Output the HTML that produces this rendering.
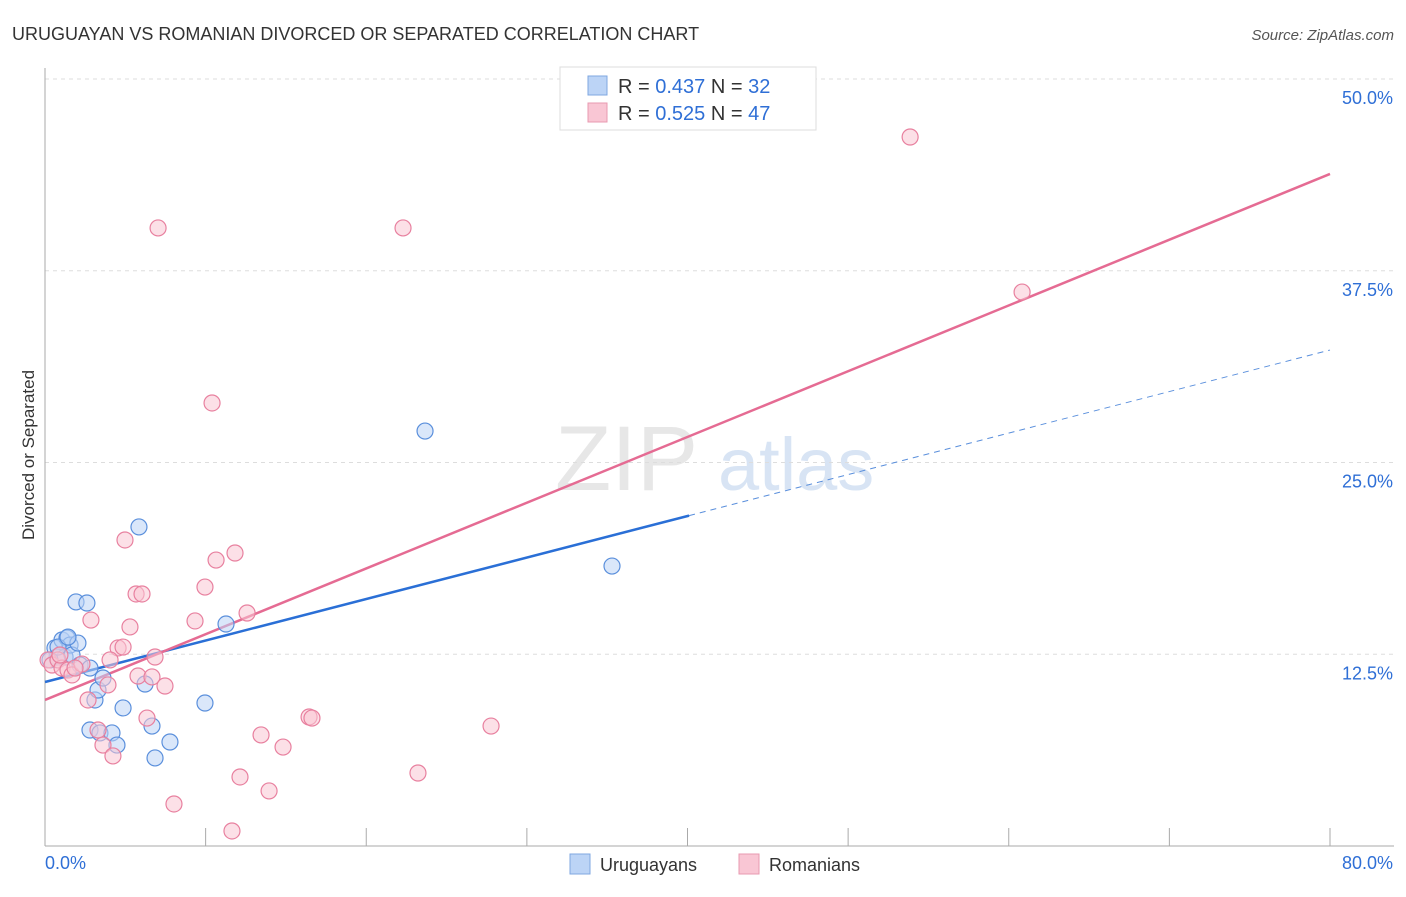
<!DOCTYPE html>
<html><head><meta charset="utf-8"><style>
body{margin:0;background:#fff;font-family:"Liberation Sans",sans-serif;}
svg text{font-family:"Liberation Sans",sans-serif;}
</style></head><body>
<svg id="chart" width="1406" height="892">
<text x="12" y="40" font-size="18" fill="#333">URUGUAYAN VS ROMANIAN DIVORCED OR SEPARATED CORRELATION CHART</text>
<text x="1394" y="40" font-size="15" fill="#555" text-anchor="end" font-style="italic">Source: ZipAtlas.com</text>
<text x="34" y="455" font-size="17" fill="#333" text-anchor="middle" transform="rotate(-90 34 455)">Divorced or Separated</text>
<g><text x="555" y="490" font-size="92" fill="#ddd" font-family="Liberation Serif" opacity="0.7">ZIP</text><text x="718" y="490" font-size="74" fill="#c8daf0" opacity="0.7">atlas</text></g>
<g id="grid"></g><g id="axes"></g><g id="lines"></g><g id="pts"></g>
<g>
<rect x="560" y="67" width="256" height="63" fill="#fff" stroke="#ddd"/>
<rect x="588" y="76" width="19" height="19" fill="#bcd4f6" stroke="#7fa7e0"/>
<rect x="588" y="103" width="19" height="19" fill="#f9c6d4" stroke="#e89ab0"/>
<text x="618" y="93" font-size="20" fill="#333">R = <tspan fill="#2f6fd6">0.437</tspan>   N = <tspan fill="#2f6fd6">32</tspan></text>
<text x="618" y="120" font-size="20" fill="#333">R = <tspan fill="#2f6fd6">0.525</tspan>   N = <tspan fill="#2f6fd6">47</tspan></text>
</g>
<g>
<rect x="570" y="854" width="20" height="20" fill="#bcd4f6" stroke="#7fa7e0"/>
<text x="600" y="871" font-size="18" fill="#333">Uruguayans</text>
<rect x="739" y="854" width="20" height="20" fill="#f9c6d4" stroke="#e89ab0"/>
<text x="769" y="871" font-size="18" fill="#333">Romanians</text>
</g>
</svg>
<script>
const yTicks=[12.5,25,37.5,50];
const yTickLabels=["12.5%","25.0%","37.5%","50.0%"];
const xTicks=[0,10,20,30,40,50,60,70,80];
const blueX=[.62,.75,1.06,1.25,1.37,1.56,1.68,1.93,2.05,2.18,2.61,2.80,3.11,3.30,2.80,3.42,3.61,4.17,4.48,4.86,5.85,6.23,6.66,6.85,7.78,9.96,11.27,23.66,35.30,.31,.81,1.43];
const blueY=[12.91,12.32,13.43,12.32,13.56,13.10,12.45,15.91,13.23,11.80,15.84,11.60,9.52,10.17,7.56,7.37,10.95,7.37,6.58,9.00,20.80,10.56,7.82,5.74,6.78,9.32,14.47,27.05,18.25,12.13,12.97,13.62];
const pinkX=[.19,.44,.81,1.06,1.43,1.68,2.30,2.68,2.86,3.30,3.61,3.92,4.23,4.55,4.86,4.98,5.29,5.67,6.04,5.79,6.35,6.66,6.85,7.04,7.47,8.03,9.34,9.96,10.40,10.65,11.64,11.83,12.14,12.58,13.45,13.95,14.82,16.44,16.62,22.29,23.22,27.77,53.86,60.83,1.87,4.05,.93];
const pinkY=[12.13,11.80,12.13,11.60,11.47,11.15,11.86,9.52,14.73,7.56,6.58,10.50,5.87,12.91,12.97,19.95,14.28,16.43,16.43,11.08,8.34,11.02,12.32,40.29,10.43,2.74,14.67,16.88,28.88,18.64,.98,19.10,4.50,15.19,7.24,3.59,6.45,8.41,8.34,40.29,4.76,7.82,46.22,36.11,11.60,12.13,12.45];
const blueTrend=[10.69,32.33]; const blueSolidEnd=40.1;
const pinkTrend=[9.52,43.81];
const X=v=>45+v/80*1285, Y=v=>846-v*15.34;
const NS="http://www.w3.org/2000/svg";
function mk(p,t,a){const e=document.createElementNS(NS,t);for(const k in a)e.setAttribute(k,a[k]);document.getElementById(p).appendChild(e);return e;}
yTicks.forEach((t,i)=>{
 const l=mk('grid','line',{x1:45,x2:1394,y1:Y(t),y2:Y(t),stroke:'#ddd','stroke-dasharray':'4,4'});
 
 
 const tx=mk('grid','text',{x:1393,y:Y(t)+25,'font-size':18,fill:'#2f6fd6','text-anchor':'end'});
 tx.textContent=yTickLabels[i];
 
 
});
const ax=mk('axes','line',{x1:45,x2:45,y1:68,y2:846,stroke:'#aaa'});


const bx=mk('axes','line',{x1:45,x2:1394,y1:846,y2:846,stroke:'#aaa'});


xTicks.forEach(t=>{const l=mk('axes','line',{x1:X(t),x2:X(t),y1:828,y2:846,stroke:'#aaa'});
 
 });
const x0=mk('axes','text',{x:45,y:869,'font-size':18,fill:'#2f6fd6'});x0.textContent='0.0%';


const x1=mk('axes','text',{x:1393,y:869,'font-size':18,fill:'#2f6fd6','text-anchor':'end'});x1.textContent='80.0%';


function draw(xs,ys,fill,stroke,name){xs.forEach((x,i)=>{const c=mk('pts','circle',{cx:X(x),cy:Y(ys[i]),r:8,fill:fill,'fill-opacity':0.55,stroke:stroke,'stroke-width':1.2});
 
 });}
draw(blueX,blueY,'#bcd4f6','#5a8fdc','uruguayan-point');
draw(pinkX,pinkY,'#f9c6d4','#e8809f','romanian-point');
const bAt=x=>blueTrend[0]+(blueTrend[1]-blueTrend[0])*x/80;
const b1=mk('lines','line',{x1:X(0),y1:Y(bAt(0)),x2:X(blueSolidEnd),y2:Y(bAt(blueSolidEnd)),stroke:'#2a6fd6','stroke-width':2.5});


const b2=mk('lines','line',{x1:X(blueSolidEnd),y1:Y(bAt(blueSolidEnd)),x2:X(80),y2:Y(bAt(80)),stroke:'#5a8fdc','stroke-width':1,'stroke-dasharray':'6,5'});


const p1=mk('lines','line',{x1:X(0),y1:Y(pinkTrend[0]),x2:X(80),y2:Y(pinkTrend[1]),stroke:'#e56b93','stroke-width':2.5});


</script>
</body></html>
